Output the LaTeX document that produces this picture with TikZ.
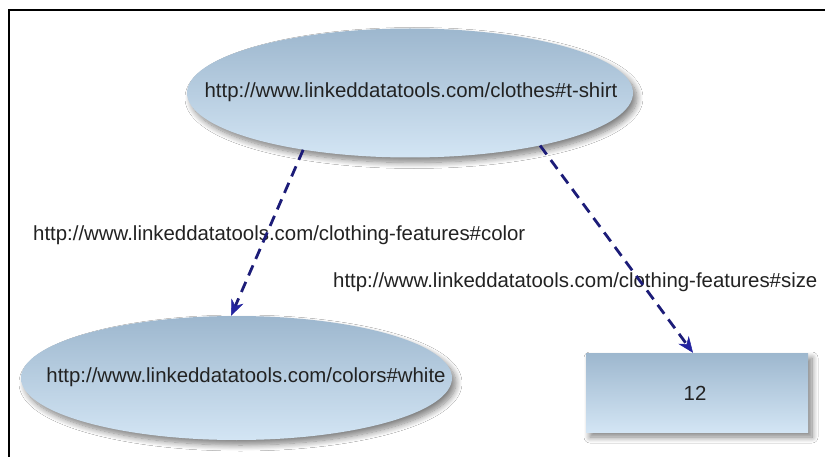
\documentclass[tikz,border=0pt]{standalone}
\usepackage{fontspec}
\setmainfont{Liberation Sans}
\usetikzlibrary{arrows.meta,shapes.geometric,shadows.blur}
\definecolor{topblue}{HTML}{9DB7CE}
\definecolor{botblue}{HTML}{D3E5F4}
\definecolor{arrowline}{HTML}{1C1C78}
\definecolor{arrowhead}{HTML}{2424A0}
\definecolor{txt}{HTML}{222222}
\tikzset{
  nodeshadow/.style={blur shadow={shadow xshift=4pt, shadow yshift=-5pt, shadow blur steps=10, shadow blur radius=6pt, shadow opacity=50}},
  resource/.style={ellipse, draw=none, inner sep=0pt, top color=topblue, bottom color=botblue, nodeshadow},
  literal/.style={rectangle, draw=none, inner sep=0pt, top color=topblue, bottom color=botblue, nodeshadow},
  uri/.style={font=\fontsize{20.4}{24}\selectfont, text=txt, inner sep=0pt},
  prop/.style={draw=arrowline, line width=2.8pt, dash pattern=on 11pt off 7pt,
    -{Stealth[length=16pt,width=13pt,color=arrowhead,fill=arrowhead,line width=0.5pt]}}
}
\begin{document}
\begin{tikzpicture}[x=1pt,y=-1pt]
\useasboundingbox (0,0) rectangle (825,457);
\fill[white] (0,0) rectangle (825,457);
\begin{scope}
\clip (0,0) rectangle (825,457);
\draw[line width=2pt, black] (9,10.5) rectangle (840,470);
\end{scope}
% nodes
\node[resource, minimum width=446pt, minimum height=129pt] (tshirt) at (410,93) {};
\node[resource, minimum width=431pt, minimum height=124pt] (white) at (236.5,378) {};
\node[literal, minimum width=222pt, minimum height=79pt] (twelve) at (697,392.5) {};
% texts
\node[uri] (tshirttext) at (411,92) {http://www.linkeddatatools.com/clothes\#t-shirt};
\node[uri] (whitetext) at (246,377) {http://www.linkeddatatools.com/colors\#white};
\node[uri] (twelvetext) at (695,393) {12};
\node[uri, anchor=west] (colorlabel) at (33,235) {http://www.linkeddatatools.com/clothing-features\#color};
\node[uri, anchor=west] (sizelabel) at (333,282) {http://www.linkeddatatools.com/clothing-features\#size};
% connectors
\draw[prop] (tshirt.-152) -- (white.95);
\draw[prop] (tshirt.-22) -- ([xshift=-4pt]twelve.north);
\end{tikzpicture}
\end{document}
